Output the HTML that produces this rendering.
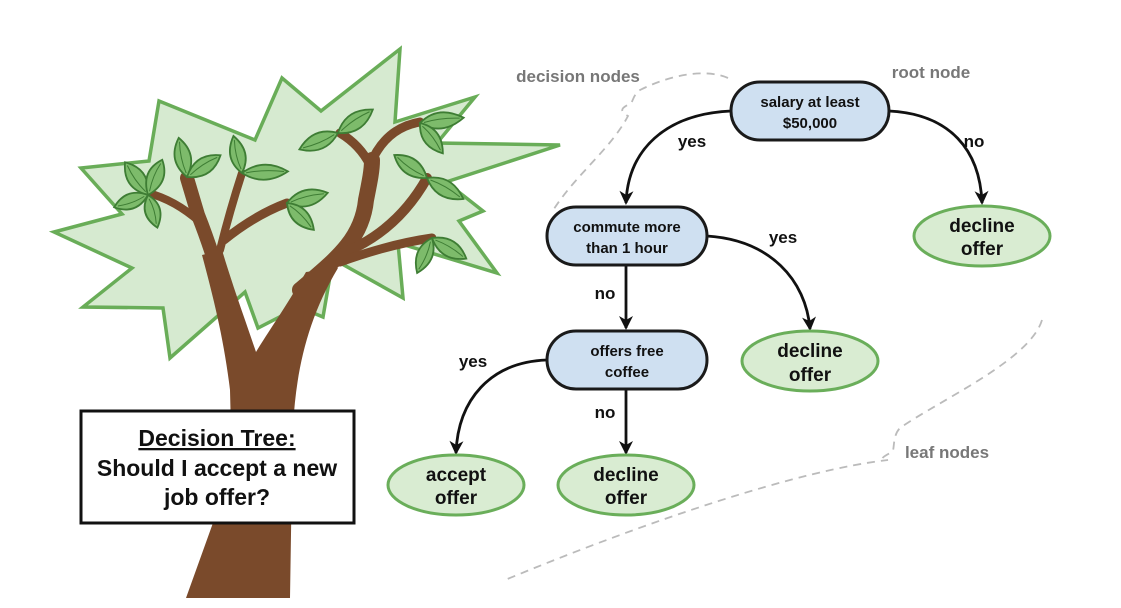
<!DOCTYPE html>
<html><head><meta charset="utf-8"><style>
html,body{margin:0;padding:0;background:#fff;}
svg{display:block;}
text{font-family:"Liberation Sans",Arial,sans-serif;font-weight:bold;}
</style></head><body>
<svg width="1121" height="608" viewBox="0 0 1121 608" xmlns="http://www.w3.org/2000/svg">
<defs>
<marker id="ah" markerWidth="18" markerHeight="16" refX="13" refY="8" orient="auto" markerUnits="userSpaceOnUse">
<path d="M1,1 L15,8 L1,15 L5,8 Z" fill="#111"/>
</marker>
</defs>
<polygon points="159,101 255,140 282,78 321,111 400,49 395,122 475,97 437,143 560,145 446,182 483,211 459,221 497,273 398,243 403,298 333,259 323,317 299,307 258,328 245,292 170,358 163,308 83,307 132,268 54,232 122,214 81,168 149,161" fill="#d6ead0" stroke="#69ad58" stroke-width="3.5" stroke-linejoin="miter"/>
<g fill="#7a4a2b" stroke="none">
<path d="M186,598 L290,598 L292,470 C292,400 298,335 338,268 L306,272 C284,310 268,332 256,352 C246,322 234,290 222,250 L202,255 C214,300 224,340 230,390 L232,470 Z"/>
</g>
<g fill="none" stroke="#7a4a2b" stroke-linecap="round">
<path d="M226,300 Q212,250 198,215 L187,178" stroke-width="14"/>
<path d="M200,222 Q175,200 148,193" stroke-width="8"/>
<path d="M220,250 Q230,210 242,173" stroke-width="8"/>
<path d="M224,240 Q255,215 287,203" stroke-width="9"/>
<path d="M300,290 C335,260 362,240 366,200 C370,180 372,170 372,160" stroke-width="16"/>
<path d="M370,165 Q360,145 340,133" stroke-width="9"/>
<path d="M370,165 Q385,128 420,122" stroke-width="9"/>
<path d="M335,256 Q395,235 427,178" stroke-width="10"/>
<path d="M340,262 Q390,244 432,238" stroke-width="9"/>
</g>
<g fill="#7dbb6b" stroke="#3e7d34" stroke-width="1.8">
<g transform="translate(148,195) rotate(-125)"><path d="M0,0 Q20,-17 40,0 Q20,17 0,0Z"/><path d="M4,0 Q20,-3 36,0" fill="none" stroke-width="1"/></g>
<g transform="translate(148,195) rotate(-68)"><path d="M0,0 Q20,-16 38,0 Q20,16 0,0Z"/><path d="M4,0 Q20,-3 34,0" fill="none" stroke-width="1"/></g>
<g transform="translate(148,195) rotate(160)"><path d="M0,0 Q18,-15 36,0 Q18,15 0,0Z"/><path d="M4,0 Q18,-3 32,0" fill="none" stroke-width="1"/></g>
<g transform="translate(148,195) rotate(74)"><path d="M0,0 Q16,-15 34,0 Q16,15 0,0Z"/><path d="M4,0 Q16,-3 30,0" fill="none" stroke-width="1"/></g>
<g transform="translate(187,177) rotate(-102)"><path d="M0,0 Q20,-16 40,0 Q20,16 0,0Z"/><path d="M4,0 Q20,-3 36,0" fill="none" stroke-width="1"/></g>
<g transform="translate(187,177) rotate(-33)"><path d="M0,0 Q20,-16 40,0 Q20,16 0,0Z"/><path d="M4,0 Q20,-3 36,0" fill="none" stroke-width="1"/></g>
<g transform="translate(242,173) rotate(-103)"><path d="M0,0 Q18,-15 38,0 Q18,15 0,0Z"/><path d="M4,0 Q18,-3 34,0" fill="none" stroke-width="1"/></g>
<g transform="translate(242,173) rotate(-2)"><path d="M0,0 Q22,-15 46,0 Q22,15 0,0Z"/><path d="M4,0 Q22,-3 42,0" fill="none" stroke-width="1"/></g>
<g transform="translate(287,203) rotate(-14)"><path d="M0,0 Q20,-16 42,0 Q20,16 0,0Z"/><path d="M4,0 Q20,-3 38,0" fill="none" stroke-width="1"/></g>
<g transform="translate(287,203) rotate(45)"><path d="M0,0 Q18,-15 38,0 Q18,15 0,0Z"/><path d="M4,0 Q18,-3 34,0" fill="none" stroke-width="1"/></g>
<g transform="translate(338,133) rotate(157)"><path d="M0,0 Q20,-16 42,0 Q20,16 0,0Z"/><path d="M4,0 Q20,-3 38,0" fill="none" stroke-width="1"/></g>
<g transform="translate(338,133) rotate(-34)"><path d="M0,0 Q20,-16 42,0 Q20,16 0,0Z"/><path d="M4,0 Q20,-3 38,0" fill="none" stroke-width="1"/></g>
<g transform="translate(420,123) rotate(-7)"><path d="M0,0 Q20,-16 44,0 Q20,16 0,0Z"/><path d="M4,0 Q20,-3 40,0" fill="none" stroke-width="1"/></g>
<g transform="translate(420,123) rotate(53)"><path d="M0,0 Q18,-15 38,0 Q18,15 0,0Z"/><path d="M4,0 Q18,-3 34,0" fill="none" stroke-width="1"/></g>
<g transform="translate(427,178) rotate(-145)"><path d="M0,0 Q20,-16 40,0 Q20,16 0,0Z"/><path d="M4,0 Q20,-3 36,0" fill="none" stroke-width="1"/></g>
<g transform="translate(427,178) rotate(30)"><path d="M0,0 Q20,-16 42,0 Q20,16 0,0Z"/><path d="M4,0 Q20,-3 38,0" fill="none" stroke-width="1"/></g>
<g transform="translate(432,238) rotate(113)"><path d="M0,0 Q18,-15 38,0 Q18,15 0,0Z"/><path d="M4,0 Q18,-3 34,0" fill="none" stroke-width="1"/></g>
<g transform="translate(432,238) rotate(31)"><path d="M0,0 Q20,-16 40,0 Q20,16 0,0Z"/><path d="M4,0 Q20,-3 36,0" fill="none" stroke-width="1"/></g>
</g>
<rect x="81" y="411" width="273" height="112" fill="#fff" stroke="#111" stroke-width="3"/>
<text x="217" y="446" font-size="23" text-anchor="middle" fill="#111" text-decoration="underline">Decision Tree:</text>
<text x="217" y="476" font-size="23" text-anchor="middle" fill="#111">Should I accept a new</text>
<text x="217" y="505" font-size="23" text-anchor="middle" fill="#111">job offer?</text>
<g fill="none" stroke="#bbb" stroke-width="1.8" stroke-dasharray="8,6">
<path d="M728,78 C705,68 670,75 640,90 C632,96 633,103 630,104 C620,108 620,112 628,116 C610,150 575,175 552,212"/>
<path d="M1042,320 C1030,360 940,400 900,428 C892,436 895,450 892,452 C880,458 880,460 888,460 C800,470 650,520 505,580"/>
</g>
<text x="578" y="82" font-size="17" text-anchor="middle" fill="#777">decision nodes</text>
<text x="931" y="78" font-size="17" text-anchor="middle" fill="#777">root node</text>
<text x="947" y="458" font-size="17" text-anchor="middle" fill="#777">leaf nodes</text>
<g fill="none" stroke="#111" stroke-width="2.8" marker-end="url(#ah)">
<path d="M731,111 C665,114 628,150 626,203"/>
<path d="M889,111 C950,114 980,150 982,203"/>
<path d="M707,236 C770,240 806,280 810,329"/>
<path d="M626,266 L626,328"/>
<path d="M547,360 C490,362 458,400 456,453"/>
<path d="M626,390 L626,453"/>
</g>
<g font-size="17" fill="#111" text-anchor="middle">
<text x="692" y="147">yes</text>
<text x="974" y="147">no</text>
<text x="783" y="243">yes</text>
<text x="605" y="299">no</text>
<text x="473" y="367">yes</text>
<text x="605" y="418">no</text>
</g>
<g fill="#cfe0f1" stroke="#1a1a1a" stroke-width="3">
<rect x="731" y="82" width="158" height="58" rx="29"/>
<rect x="547" y="207" width="160" height="58" rx="29"/>
<rect x="547" y="331" width="160" height="58" rx="29"/>
</g>
<g font-size="15" fill="#111" text-anchor="middle">
<text x="810" y="107">salary at least</text>
<text x="810" y="128">$50,000</text>
<text x="627" y="232">commute more</text>
<text x="627" y="253">than 1 hour</text>
<text x="627" y="356">offers free</text>
<text x="627" y="377">coffee</text>
</g>
<g fill="#d9ecd2" stroke="#6aae5a" stroke-width="3">
<ellipse cx="982" cy="236" rx="68" ry="30"/>
<ellipse cx="810" cy="361" rx="68" ry="30"/>
<ellipse cx="456" cy="485" rx="68" ry="30"/>
<ellipse cx="626" cy="485" rx="68" ry="30"/>
</g>
<g font-size="19" fill="#111" text-anchor="middle">
<text x="982" y="232">decline</text><text x="982" y="255">offer</text>
<text x="810" y="357">decline</text><text x="810" y="381">offer</text>
<text x="456" y="481">accept</text><text x="456" y="504">offer</text>
<text x="626" y="481">decline</text><text x="626" y="504">offer</text>
</g>
</svg>
</body></html>
